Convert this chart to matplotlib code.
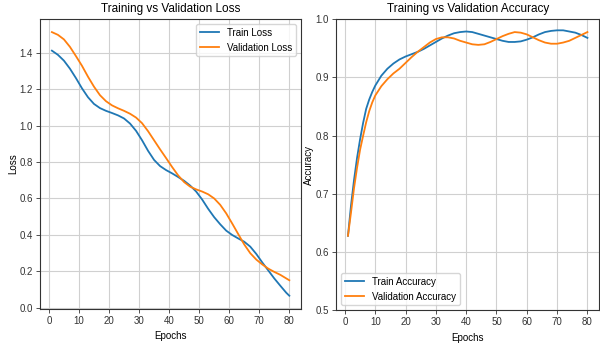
import matplotlib
matplotlib.use("Agg")
import matplotlib.pyplot as plt

# Loss data
train_loss_epochs = [1, 3, 5, 7, 9, 11, 13, 15, 17, 19, 21, 23, 25, 27, 29, 31, 33, 35, 37, 39,
                     41, 43, 45, 47, 49, 51, 53, 55, 57, 59, 61, 63, 65, 67, 69, 71, 73, 75, 77,
                     79, 80]
train_loss = [1.413, 1.390, 1.358, 1.314, 1.262, 1.206, 1.157, 1.120, 1.097, 1.082, 1.070, 1.057,
              1.040, 1.012, 0.972, 0.920, 0.862, 0.812, 0.778, 0.756, 0.738, 0.718, 0.697, 0.671,
              0.638, 0.594, 0.543, 0.497, 0.458, 0.423, 0.399, 0.380, 0.362, 0.335, 0.295, 0.248,
              0.204, 0.160, 0.120, 0.081, 0.065]

val_loss_epochs = [1, 3, 5, 7, 9, 11, 13, 15, 17, 19, 21, 23, 25, 27, 29, 31, 33, 35, 37, 39,
                   41, 43, 45, 47, 49, 51, 53, 55, 57, 59, 61, 63, 65, 67, 69, 71, 73, 75, 77,
                   79, 80]
val_loss = [1.515, 1.500, 1.475, 1.434, 1.383, 1.330, 1.270, 1.215, 1.168, 1.135, 1.112, 1.096,
            1.082, 1.066, 1.045, 1.014, 0.970, 0.920, 0.870, 0.822, 0.773, 0.727, 0.690, 0.665,
            0.650, 0.638, 0.623, 0.600, 0.565, 0.518, 0.462, 0.404, 0.347, 0.299, 0.264, 0.237,
            0.214, 0.196, 0.180, 0.160, 0.150]

# Accuracy data
train_acc_epochs = [1, 2, 3, 4, 5, 6, 7, 8, 9, 10, 12, 14, 16, 18, 20, 22, 24, 26, 28, 30, 32,
                    34, 36, 38, 40, 42, 44, 46, 48, 50, 52, 54, 56, 58, 60, 62, 64, 66, 68, 70,
                    72, 74, 76, 78, 80]
train_acc = [0.628, 0.680, 0.724, 0.762, 0.794, 0.822, 0.846, 0.862, 0.875, 0.886, 0.903, 0.915,
             0.924, 0.931, 0.936, 0.940, 0.944, 0.949, 0.955, 0.961, 0.967, 0.972, 0.976, 0.978,
             0.979, 0.978, 0.975, 0.972, 0.969, 0.966, 0.963, 0.961, 0.961, 0.962, 0.965, 0.969,
             0.974, 0.978, 0.980, 0.981, 0.981, 0.979, 0.977, 0.973, 0.968]

val_acc_epochs = [1, 2, 3, 4, 5, 6, 7, 8, 9, 10, 12, 14, 16, 18, 20, 22, 24, 26, 28, 30, 32,
                  34, 36, 38, 40, 42, 44, 46, 48, 50, 52, 54, 56, 58, 60, 62, 64, 66, 68, 70,
                  72, 74, 76, 78, 80]
val_acc = [0.628, 0.668, 0.710, 0.745, 0.776, 0.800, 0.823, 0.842, 0.857, 0.869, 0.885, 0.897,
           0.907, 0.915, 0.925, 0.935, 0.944, 0.952, 0.960, 0.966, 0.969, 0.969, 0.967, 0.963,
           0.960, 0.957, 0.956, 0.957, 0.961, 0.966, 0.971, 0.975, 0.978, 0.977, 0.974, 0.969,
           0.964, 0.960, 0.958, 0.958, 0.960, 0.963, 0.968, 0.973, 0.978]

BLUE = "#1f77b4"
ORANGE = "#ff7f0e"

plt.rcParams['font.family'] = ['Liberation Sans', 'DejaVu Sans']
fig = plt.figure(figsize=(6.0, 3.44), dpi=100)
ax1 = fig.add_axes([0.0667, 0.102, 0.4353, 0.843])
ax2 = fig.add_axes([0.56, 0.098, 0.439, 0.846])

fs_tick = 7
for ax in (ax1, ax2):
    ax.grid(True, color="#d0d0d0", linewidth=0.8)
    ax.tick_params(labelsize=fs_tick, length=3, width=0.6, pad=2, colors="#333333",
                   labelcolor="#333333")
    for s in ax.spines.values():
        s.set_linewidth(0.8)
        s.set_color("#333333")

ax1.plot(train_loss_epochs, train_loss, color=BLUE, lw=1.3, label="Train Loss")
ax1.plot(val_loss_epochs, val_loss, color=ORANGE, lw=1.3, label="Validation Loss")
ax1.set_title("Training vs Validation Loss", fontsize=8.5, pad=5)
ax1.set_xlabel("Epochs", fontsize=7, labelpad=4)
ax1.set_ylabel("Loss", fontsize=7, labelpad=1)
ax1.set_xticks([0, 10, 20, 30, 40, 50, 60, 70, 80])
ax1.set_yticks([0.0, 0.2, 0.4, 0.6, 0.8, 1.0, 1.2, 1.4])
ax1.legend(loc="upper right", fontsize=7, framealpha=0.8, handlelength=2.0)

ax2.plot(train_acc_epochs, train_acc, color=BLUE, lw=1.3, label="Train Accuracy")
ax2.plot(val_acc_epochs, val_acc, color=ORANGE, lw=1.3, label="Validation Accuracy")
ax2.set_title("Training vs Validation Accuracy", fontsize=8.5, pad=5)
ax2.set_xlabel("Epochs", fontsize=7, labelpad=4)
ax2.set_ylabel("Accuracy", fontsize=7, labelpad=1)
ax2.set_ylim(0.5, 1.0)
ax2.set_xticks([0, 10, 20, 30, 40, 50, 60, 70, 80])
ax2.legend(loc="lower left", fontsize=7, framealpha=0.8, handlelength=2.0)

fig.savefig("out.png", dpi=100)
